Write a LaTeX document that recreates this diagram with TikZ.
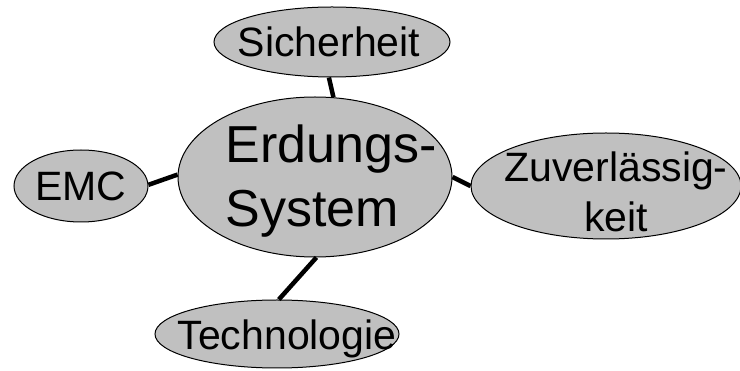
\documentclass[tikz,border=0pt]{standalone}
\usepackage{fontspec}
\setmainfont{Liberation Sans}
\usetikzlibrary{shapes.geometric}
\definecolor{bubblegray}{RGB}{192,192,192}

\begin{document}
\begin{tikzpicture}[x = 1pt, y = -1pt, every node/.style = {draw, ellipse, fill = bubblegray, line width = 1pt, inner sep = 0pt}, txt/.style = {draw = none, fill = none, rectangle, font = \fontsize{41}{50}\selectfont, align = center}, big/.style = {font = \fontsize{52}{64}\selectfont}, link/.style = {line width = 4.5pt}]
            \useasboundingbox (0, 0) rectangle (740, 371);
            \node[minimum width = 274pt, minimum height = 160pt, label = {[txt, big, align = left, xshift = 16pt, yshift = -4pt]center:Erdungs-\\System}] (erdung) at (315, 177) {};
            \node[minimum width = 236pt, minimum height = 70pt, label = {[txt, xshift = -3pt]center:Sicherheit}] (sicher) at (332, 42) {};
            \node[minimum width = 134pt, minimum height = 72pt, label = {[txt]center:EMC}] (emc) at (81, 186) {};
            \node[minimum width = 270pt, minimum height = 106pt, label = {[txt, xshift = 10pt, yshift = -6pt]center:Zuverlässig-\\keit}] (zuver) at (606, 186) {};
            \node[minimum width = 244pt, minimum height = 68pt, label = {[txt, xshift = 10pt, yshift = -5pt]center:Technologie}] (techno) at (277, 334) {};
            \draw[link] (sicher.265) -- (erdung.77);
            \draw[link] (emc.1) -- (erdung.179);
            \draw[link] (zuver.180) -- (erdung.0);
            \draw[link] (techno.87) -- (erdung.-89);
        \end{tikzpicture}
\end{document}
